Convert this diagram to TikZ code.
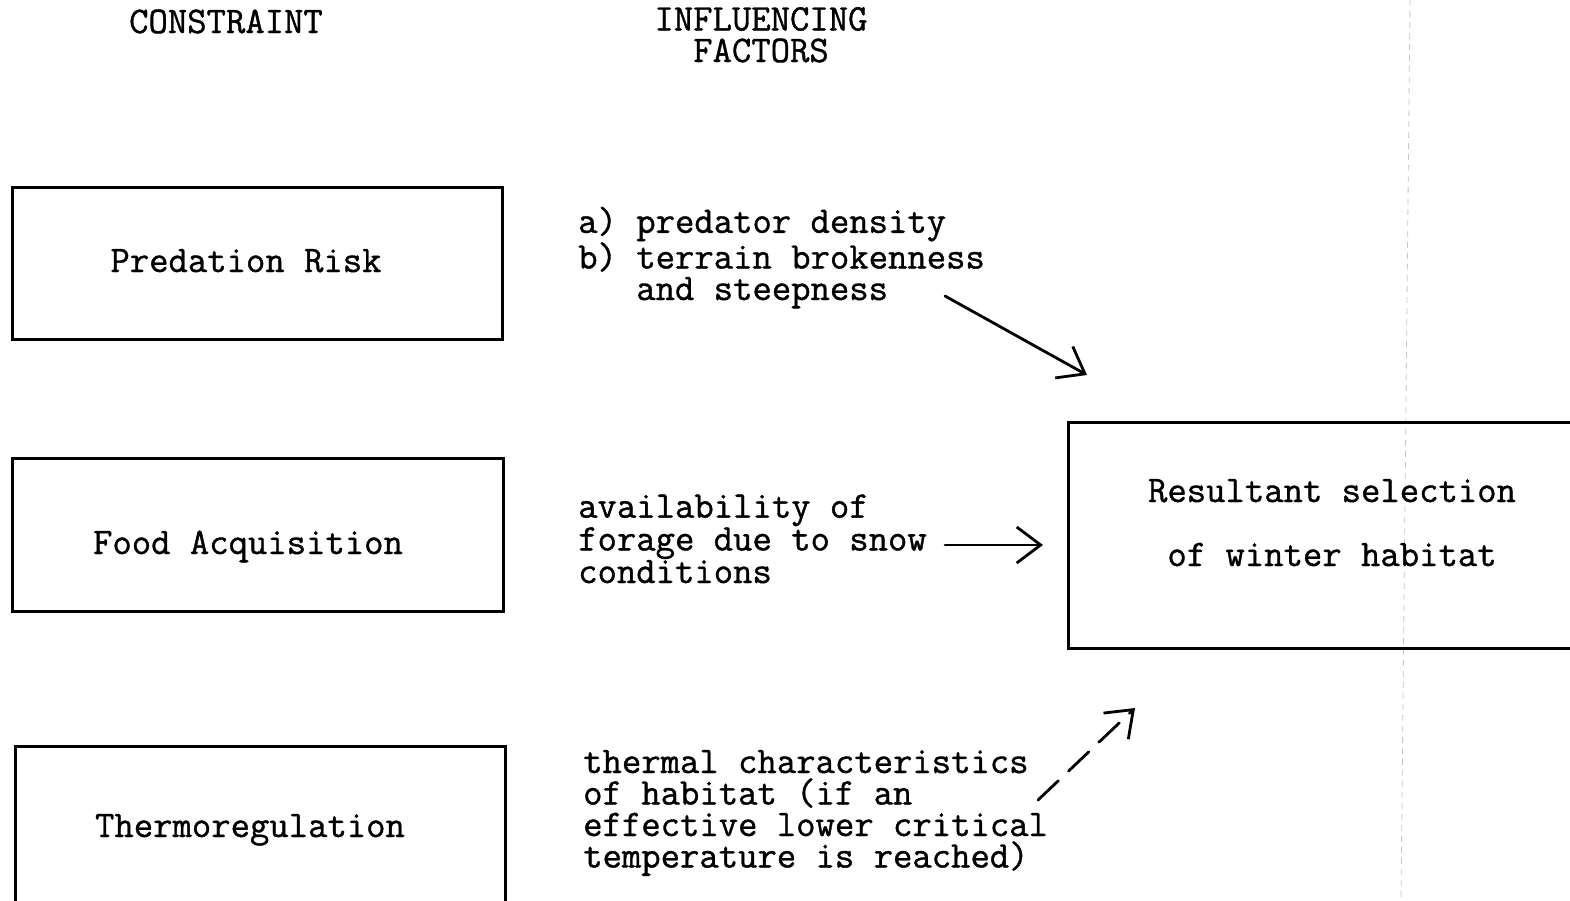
\documentclass[tikz,border=0pt]{standalone}
\usepackage{fontspec}
\usetikzlibrary{arrows.meta}
\newfontfamily\twface{Latin Modern Mono}[AutoFakeBold=1.0]
\newcommand\twfont{\twface\bfseries\fontsize{37.6}{31.5}\selectfont}
\newcommand\twfontwide{\twface\bfseries\fontsize{37.6}{64}\selectfont}
\begin{document}
\begin{tikzpicture}[x=1pt,y=-1pt,
  box/.style={draw, line width=3pt, inner sep=0pt, rectangle},
  lbl/.style={font=\twfont, anchor=base west, align=left, inner sep=0pt},
  ctr/.style={font=\twfont, anchor=base, align=center, inner sep=0pt},
  arr/.style={line width=2.8pt, line cap=round,
    -{Straight Barb[length=24pt,width=36pt,line width=2.8pt]}},
  foldline/.style={gray!45, line width=0.8pt, dash pattern=on 6pt off 5pt}]
\useasboundingbox (0,0) rectangle (1570,900);
% faint fold line of the scan
\draw[foldline] (1410,0) -- (1401,900);
% headers (base anchor = baseline of last line)
\node[ctr] (hcon) at (226,33) {CONSTRAINT};
\node[ctr] (hinf) at (761,62) {INFLUENCING\\FACTORS};
% constraint boxes
\node[box, minimum width=490pt, minimum height=152pt] (pr) at (257,263) {};
\node[box, minimum width=491pt, minimum height=153pt] (fa) at (257.5,534.5) {};
\node[box, minimum width=490pt, minimum height=162pt] (th) at (260,827) {};
\node[ctr] (prt) at (246,272) {Predation Risk};
\node[ctr] (fat) at (248,554) {Food Acquisition};
\node[ctr] (tht) at (250,837) {Thermoregulation};
% factors
\node[lbl] (prf) at (578,300) {a) predator density\\b) terrain brokenness\\\hphantom{b) }and steepness};
\node[lbl] (faf) at (578,583) {availability of\\forage due to snow\\conditions};
\node[lbl] (thf) at (583,867.5) {thermal characteristics\\of habitat (if an\\effective lower critical\\temperature is reached)};
% result box
\node[box, minimum width=552pt, minimum height=226pt] (rs) at (1344,535) {};
\node[ctr, font=\twfontwide] (rst) at (1332,566) {Resultant selection\\of winter habitat};
% arrows
\coordinate (a1s) at (945,296);
\coordinate (a1e) at (1087,375);
\coordinate (a2s) at (945,545);
\coordinate (a2e) at (1043,545);
\coordinate (a3s) at (1038,800);
\coordinate (a3e) at (1135,708);
\draw[arr] (a1s) -- (a1e);
\draw[arr] (a2s) -- (a2e);
\draw[arr, dash pattern=on 28pt off 14pt] (a3s) -- (a3e);
\end{tikzpicture}
\end{document}
